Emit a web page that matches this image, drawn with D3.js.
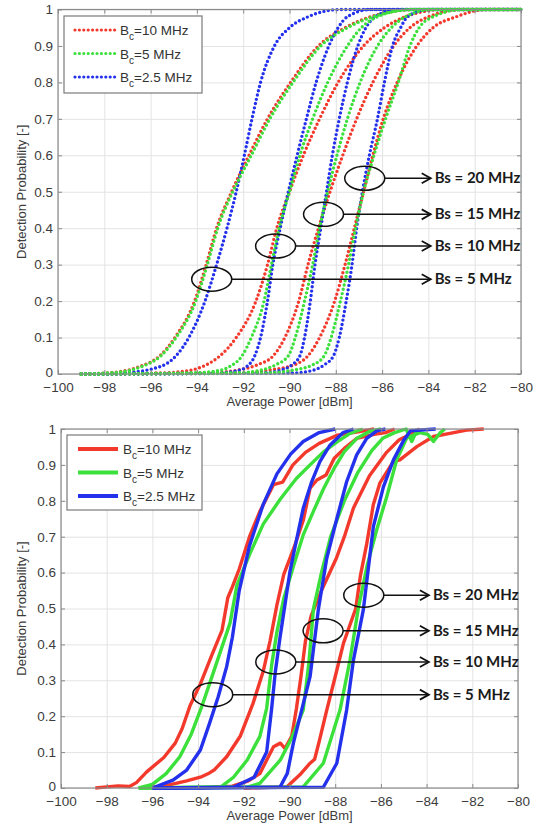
<!DOCTYPE html>
<html>
<head>
<meta charset="utf-8">
<script src="https://cdn.jsdelivr.net/npm/d3@7"></script>
<style>
  body { margin: 0; background: #fff; }
  svg { display: block; }
</style>
</head>
<body>
<div id="chart"></div>
<script>
// axis ticks
const xTicks = [-100, -98, -96, -94, -92, -90, -88, -86, -84, -82, -80];
const yTicks = [0, 0.1, 0.2, 0.3, 0.4, 0.5, 0.6, 0.7, 0.8, 0.9, 1];

// legend (channel bandwidth Bc) and annotations (signal bandwidth Bs)
const bcValues = ['10 MHz', '5 MHz', '2.5 MHz'];
const bsLabels = ['Bs = 5 MHz', 'Bs = 10 MHz', 'Bs = 15 MHz', 'Bs = 20 MHz'];
const bsMarkX = [-93.36, -90.6, -88.53, -86.75];
const bsMarkP = [0.26, 0.351, 0.438, 0.537];
const arrowTipX = -83.9;

// upper panel: analytical curves [power dBm, probability]
const thRed5 = [[-99,0],[-97.5,0.005],[-96.5,0.02],[-95.6,0.05],[-94.95,0.1],[-94.1,0.2],[-93.6,0.3],[-93.15,0.4],[-92.5,0.5],[-91.75,0.6],[-90.95,0.7],[-89.95,0.8],[-88.75,0.9],[-87.6,0.95],[-86.5,0.98],[-84.5,1],[-80,1]];
const thGreen5 = [[-99,0],[-97.4,0.005],[-96.4,0.02],[-95.55,0.05],[-94.9,0.1],[-94.05,0.2],[-93.55,0.3],[-93.1,0.4],[-92.45,0.5],[-91.65,0.6],[-90.85,0.7],[-89.85,0.8],[-88.65,0.9],[-87.5,0.95],[-86.4,0.98],[-84.5,1],[-80,1]];
const thBlue5 = [[-99,0],[-97.2,0.003],[-95.6,0.02],[-94.9,0.05],[-94.35,0.1],[-93.65,0.2],[-93.15,0.3],[-92.7,0.4],[-92.3,0.5],[-91.95,0.6],[-91.62,0.7],[-91.25,0.8],[-90.65,0.9],[-90.0,0.95],[-89.2,0.98],[-87.8,1],[-80,1]];
const thRed10 = [[-99,0],[-95.5,0.003],[-94.3,0.01],[-93.6,0.025],[-93.0,0.05],[-92.3,0.1],[-91.45,0.2],[-90.95,0.3],[-90.55,0.4],[-90.0,0.5],[-89.4,0.6],[-88.7,0.7],[-87.9,0.8],[-86.8,0.9],[-85.9,0.95],[-85.0,0.98],[-83.3,1],[-80,1]];
const thGreen10 = [[-99,0],[-94.2,0.003],[-93.0,0.01],[-92.6,0.02],[-92.05,0.05],[-91.65,0.1],[-91.1,0.2],[-90.78,0.3],[-90.45,0.4],[-90.0,0.5],[-89.55,0.6],[-89.0,0.7],[-88.35,0.8],[-87.5,0.9],[-86.9,0.95],[-86.2,0.98],[-84.8,1],[-80,1]];
const thBlue10 = [[-99,0],[-93.0,0.003],[-92.2,0.01],[-91.85,0.02],[-91.5,0.05],[-91.25,0.1],[-90.95,0.2],[-90.72,0.3],[-90.4,0.4],[-90.05,0.5],[-89.67,0.6],[-89.27,0.7],[-88.85,0.8],[-88.3,0.9],[-87.9,0.95],[-87.5,0.98],[-86.5,1],[-80,1]];
const thRed15 = [[-99,0],[-93.5,0.003],[-92.3,0.01],[-91.4,0.025],[-90.7,0.05],[-90.2,0.1],[-89.6,0.2],[-89.2,0.3],[-88.75,0.4],[-88.25,0.5],[-87.7,0.6],[-87.1,0.7],[-86.4,0.8],[-85.5,0.9],[-84.8,0.95],[-84.0,0.98],[-82.5,1],[-80,1]];
const thGreen15 = [[-99,0],[-92.3,0.003],[-91.3,0.01],[-90.6,0.025],[-90.05,0.05],[-89.75,0.1],[-89.35,0.2],[-89.0,0.3],[-88.7,0.4],[-88.35,0.5],[-87.95,0.6],[-87.5,0.7],[-86.95,0.8],[-86.2,0.9],[-85.6,0.95],[-85.0,0.98],[-83.8,1],[-80,1]];
const thBlue15 = [[-99,0],[-91.2,0.003],[-90.4,0.01],[-89.9,0.025],[-89.55,0.05],[-89.35,0.1],[-89.1,0.2],[-88.9,0.3],[-88.65,0.4],[-88.4,0.5],[-88.15,0.6],[-87.85,0.7],[-87.5,0.8],[-87.05,0.9],[-86.7,0.95],[-86.3,0.98],[-85.3,1],[-80,1]];
const thRed20 = [[-99,0],[-92.0,0.003],[-91.0,0.01],[-89.8,0.025],[-89.2,0.05],[-88.7,0.1],[-88.05,0.2],[-87.6,0.3],[-87.2,0.4],[-86.8,0.5],[-86.4,0.6],[-85.95,0.7],[-85.35,0.8],[-84.5,0.9],[-83.8,0.95],[-82.8,0.98],[-81.5,1],[-80,1]];
const thGreen20 = [[-99,0],[-91.0,0.003],[-89.9,0.01],[-89.0,0.025],[-88.5,0.05],[-88.2,0.1],[-87.8,0.2],[-87.45,0.3],[-87.15,0.4],[-86.8,0.5],[-86.35,0.6],[-85.85,0.7],[-85.3,0.8],[-84.8,0.9],[-84.4,0.95],[-83.8,0.98],[-82.5,1],[-80,1]];
const thBlue20 = [[-99,0],[-89.8,0.003],[-89.0,0.01],[-88.5,0.025],[-88.1,0.05],[-87.85,0.1],[-87.55,0.2],[-87.3,0.3],[-87.1,0.4],[-86.85,0.5],[-86.55,0.6],[-86.2,0.7],[-85.9,0.8],[-85.55,0.9],[-85.2,0.95],[-84.9,0.98],[-84.0,1],[-80,1]];

// lower panel: simulated curves
const simRed5 = [[-98.5,0],[-98.0,0.003],[-97.5,0.006],[-97.0,0.004],[-96.7,0.015],[-96.25,0.045],[-95.5,0.085],[-95.0,0.125],[-94.7,0.165],[-94.35,0.23],[-93.9,0.29],[-93.4,0.37],[-92.95,0.44],[-92.7,0.53],[-92.5,0.56],[-92.2,0.61],[-91.75,0.7],[-91.3,0.77],[-90.7,0.845],[-90.3,0.852],[-89.85,0.9],[-89.3,0.935],[-88.7,0.96],[-87.9,0.983],[-87.0,0.992],[-86.3,1]];
const simGreen5 = [[-96.6,0],[-96.0,0.01],[-95.4,0.04],[-94.8,0.087],[-94.3,0.15],[-93.85,0.225],[-93.5,0.29],[-93.05,0.375],[-92.6,0.46],[-92.3,0.565],[-91.75,0.65],[-91.15,0.735],[-90.4,0.805],[-89.7,0.862],[-89.1,0.9],[-88.5,0.937],[-87.9,0.965],[-87.35,0.988],[-86.8,1]];
const simBlue5 = [[-96.0,0],[-95.1,0.022],[-94.5,0.05],[-93.9,0.106],[-93.5,0.18],[-93.12,0.254],[-92.75,0.338],[-92.5,0.42],[-92.2,0.55],[-91.75,0.675],[-91.15,0.79],[-90.55,0.875],[-89.95,0.93],[-89.4,0.965],[-88.7,0.99],[-88.0,1]];
const simRed10 = [[-96.5,0],[-95.5,0.005],[-94.5,0.02],[-93.9,0.03],[-93.5,0.042],[-93.3,0.05],[-92.75,0.087],[-92.15,0.145],[-91.6,0.235],[-91.15,0.325],[-90.85,0.41],[-90.55,0.51],[-90.25,0.595],[-89.8,0.67],[-89.4,0.745],[-89.1,0.835],[-88.8,0.858],[-88.4,0.872],[-88.05,0.918],[-87.6,0.946],[-87.05,0.974],[-86.3,0.985],[-85.8,0.99],[-85.4,1]];
const simGreen10 = [[-96.6,0],[-93.0,0.003],[-92.45,0.03],[-91.85,0.078],[-91.3,0.143],[-91.0,0.222],[-90.78,0.343],[-90.55,0.435],[-90.25,0.528],[-89.82,0.62],[-89.4,0.705],[-88.96,0.77],[-88.5,0.835],[-88.05,0.89],[-87.6,0.937],[-87.05,0.974],[-86.5,0.993],[-86.0,1]];
const simBlue10 = [[-96.0,0],[-92.45,0.002],[-91.55,0.03],[-91.0,0.1],[-90.78,0.222],[-90.62,0.324],[-90.42,0.417],[-90.2,0.51],[-89.98,0.603],[-89.68,0.695],[-89.4,0.779],[-89.03,0.853],[-88.67,0.909],[-88.23,0.955],[-87.65,0.99],[-87.2,1]];
const simRed15 = [[-94.0,0],[-92.5,0.005],[-91.8,0.02],[-91.3,0.04],[-90.7,0.115],[-90.4,0.125],[-90.2,0.11],[-89.9,0.145],[-89.7,0.22],[-89.5,0.31],[-89.3,0.41],[-89.05,0.48],[-88.6,0.55],[-87.95,0.64],[-87.6,0.7],[-87.2,0.78],[-86.5,0.87],[-85.75,0.935],[-85.2,0.97],[-84.7,0.985],[-84.3,1]];
const simGreen15 = [[-96.6,0],[-91.8,0.003],[-91.3,0.013],[-90.4,0.078],[-89.9,0.14],[-89.4,0.217],[-89.15,0.35],[-88.95,0.5],[-88.6,0.6],[-88.2,0.7],[-87.6,0.8],[-87.0,0.88],[-86.4,0.94],[-85.9,0.975],[-85.4,0.99],[-84.9,1],[-84.65,0.965],[-84.4,1]];
const simBlue15 = [[-96.0,0],[-90.42,0.002],[-90.1,0.04],[-89.83,0.125],[-89.1,0.31],[-88.74,0.496],[-88.37,0.64],[-87.93,0.75],[-87.5,0.853],[-87.06,0.928],[-86.62,0.974],[-86.18,0.995],[-85.8,1]];
const simRed20 = [[-92.0,0],[-90.12,0.003],[-89.5,0.04],[-89.1,0.069],[-88.9,0.08],[-88.7,0.13],[-88.37,0.217],[-88.0,0.31],[-87.64,0.403],[-87.1,0.5],[-86.9,0.59],[-86.62,0.68],[-86.33,0.79],[-86.04,0.85],[-85.46,0.909],[-85.17,0.914],[-84.43,0.951],[-83.7,0.979],[-82.98,0.988],[-82.25,0.997],[-81.5,1]];
const simGreen20 = [[-96.6,0],[-89.4,0.003],[-88.52,0.069],[-87.79,0.217],[-87.35,0.357],[-86.99,0.5],[-86.6,0.62],[-86.18,0.72],[-85.75,0.81],[-85.31,0.914],[-84.87,0.975],[-84.3,0.99],[-83.95,0.985],[-83.7,0.965],[-83.4,0.99],[-83.2,1]];
const simBlue20 = [[-96.0,0],[-88.52,0.002],[-87.93,0.069],[-87.5,0.217],[-87.2,0.357],[-86.77,0.496],[-86.33,0.728],[-85.89,0.839],[-85.45,0.914],[-85.0,0.969],[-84.7,0.995],[-83.6,1]];

const colors = ['#f2392c', '#3be03a', '#2431ec'];

const svg = d3.select('#chart').append('svg')
  .attr('width', 536)
  .attr('height', 829)
  .style('font-family', '"Liberation Sans", Arial, sans-serif');

function drawPanel(box, groups, dotted, legendBox) {
  const w = box.right - box.left;
  const h = box.bottom - box.top;
  const x = d3.scaleLinear().domain([-100, -80]).range([box.left, box.right]);
  const y = d3.scaleLinear().domain([0, 1]).range([box.bottom, box.top]);
  const g = svg.append('g');

  // grid lines
  g.append('g')
    .attr('transform', `translate(0,${box.bottom})`)
    .call(d3.axisBottom(x).tickValues(xTicks).tickSize(-h).tickFormat(''))
    .call(a => a.select('.domain').remove())
    .selectAll('line').attr('stroke', '#e3e3e3');
  g.append('g')
    .attr('transform', `translate(${box.left},0)`)
    .call(d3.axisLeft(y).tickValues(yTicks).tickSize(-w).tickFormat(''))
    .call(a => a.select('.domain').remove())
    .selectAll('line').attr('stroke', '#e3e3e3');

  // curves
  const line = d3.line()
    .x(d => x(d[0]))
    .y(d => y(d[1]))
    .curve(dotted ? d3.curveMonotoneX : d3.curveLinear);

  groups.forEach(grp => {
    grp.series.forEach(s => {
      const p = g.append('path')
        .datum(s)
        .attr('d', line)
        .attr('fill', 'none')
        .attr('stroke', colors[grp.color]);
      if (dotted) {
        p.attr('stroke-width', 3.4)
          .attr('stroke-linecap', 'round')
          .attr('stroke-dasharray', '0 4.4');
      } else {
        p.attr('stroke-width', 3.4)
          .attr('stroke-linejoin', 'round');
      }
    });
  });

  // frame and ticks
  g.append('rect')
    .attr('x', box.left).attr('y', box.top)
    .attr('width', w).attr('height', h)
    .attr('fill', 'none').attr('stroke', '#8a8a8a').attr('stroke-width', 1.2);

  const styleAxis = a => {
    a.select('.domain').remove();
    a.selectAll('line').attr('stroke', '#8a8a8a');
    a.selectAll('text').attr('fill', '#3c3c3c').style('font-size', '13.5px');
  };
  g.append('g')
    .attr('transform', `translate(0,${box.bottom})`)
    .call(d3.axisBottom(x).tickValues(xTicks).tickSizeInner(-4).tickSizeOuter(0).tickPadding(8))
    .call(styleAxis);
  g.append('g')
    .attr('transform', `translate(0,${box.top})`)
    .call(d3.axisTop(x).tickValues(xTicks).tickSizeInner(-4).tickSizeOuter(0).tickFormat(''))
    .call(styleAxis);
  g.append('g')
    .attr('transform', `translate(${box.left},0)`)
    .call(d3.axisLeft(y).tickValues(yTicks).tickSizeInner(-4).tickSizeOuter(0).tickPadding(5).tickFormat(d3.format('')))
    .call(styleAxis)
    .call(a => a.selectAll('text').filter(d => d === 0).attr('dy', '0.22em'));
  g.append('g')
    .attr('transform', `translate(${box.right},0)`)
    .call(d3.axisRight(y).tickValues(yTicks).tickSizeInner(-4).tickSizeOuter(0).tickFormat(''))
    .call(styleAxis);

  // axis titles
  g.append('text')
    .attr('x', (box.left + box.right) / 2)
    .attr('y', box.bottom + 32)
    .attr('text-anchor', 'middle')
    .attr('fill', '#3c3c3c')
    .style('font-size', '13px')
    .text('Average Power [dBm]');
  g.append('text')
    .attr('transform', `translate(26,${(box.top + box.bottom) / 2}) rotate(-90)`)
    .attr('text-anchor', 'middle')
    .attr('fill', '#3c3c3c')
    .style('font-size', '13px')
    .text('Detection Probability [-]');

  // Bs annotations: ellipse, arrow and label
  bsLabels.forEach((lab, i) => {
    const cx = x(bsMarkX[i]);
    const cy = y(bsMarkP[i]);
    const tip = x(arrowTipX);
    g.append('ellipse')
      .attr('cx', cx).attr('cy', cy)
      .attr('rx', 20).attr('ry', 12)
      .attr('fill', 'none').attr('stroke', '#111').attr('stroke-width', 1.5);
    g.append('line')
      .attr('x1', cx + 20).attr('x2', tip)
      .attr('y1', cy).attr('y2', cy)
      .attr('stroke', '#111').attr('stroke-width', 1.5);
    g.append('path')
      .attr('d', `M${tip - 9},${cy - 5}L${tip},${cy}L${tip - 9},${cy + 5}`)
      .attr('fill', 'none').attr('stroke', '#111').attr('stroke-width', 1.8);
    g.append('text')
      .attr('x', tip + 4)
      .attr('y', cy + 5)
      .attr('fill', '#1a1a1a')
      .style('font-family', 'Lato, sans-serif')
      .style('font-weight', 700)
      .style('font-size', '15px')
      .text(lab);
  });

  // legend
  const lg = g.append('g');
  lg.append('rect')
    .attr('x', legendBox.x).attr('y', legendBox.y)
    .attr('width', legendBox.w).attr('height', legendBox.h)
    .attr('fill', '#fff').attr('stroke', '#7a7a7a').attr('stroke-width', 1.2);
  bcValues.forEach((v, i) => {
    const ly = legendBox.y + 14 + i * 23.5;
    const sample = lg.append('line')
      .attr('x1', legendBox.x + 11).attr('x2', legendBox.x + 51)
      .attr('y1', ly).attr('y2', ly)
      .attr('stroke', colors[i]);
    if (dotted) {
      sample.attr('stroke-width', 3.2).attr('stroke-linecap', 'round').attr('stroke-dasharray', '0 4.4');
    } else {
      sample.attr('stroke-width', 4);
    }
    const t = lg.append('text')
      .attr('x', legendBox.x + 56)
      .attr('y', ly + 5)
      .attr('fill', '#333')
      .style('font-size', '13.5px');
    t.append('tspan').text('B');
    t.append('tspan').attr('dy', 5).style('font-size', '10px').text('c');
    t.append('tspan').attr('dy', -5).text('=' + v);
  });
}

// drawing order: red, blue, green on the upper panel
drawPanel(
  { left: 58, right: 521, top: 9.5, bottom: 374 },
  [
    { color: 0, series: [thRed5, thRed10, thRed15, thRed20] },
    { color: 2, series: [thBlue5, thBlue10, thBlue15, thBlue20] },
    { color: 1, series: [thGreen5, thGreen10, thGreen15, thGreen20] }
  ],
  true,
  { x: 64, y: 16, w: 138, h: 77 }
);

drawPanel(
  { left: 61, right: 518, top: 429, bottom: 788 },
  [
    { color: 0, series: [simRed5, simRed10, simRed15, simRed20] },
    { color: 1, series: [simGreen5, simGreen10, simGreen15, simGreen20] },
    { color: 2, series: [simBlue5, simBlue10, simBlue15, simBlue20] }
  ],
  false,
  { x: 67, y: 435, w: 135, h: 75 }
);
</script>
</body>
</html>
